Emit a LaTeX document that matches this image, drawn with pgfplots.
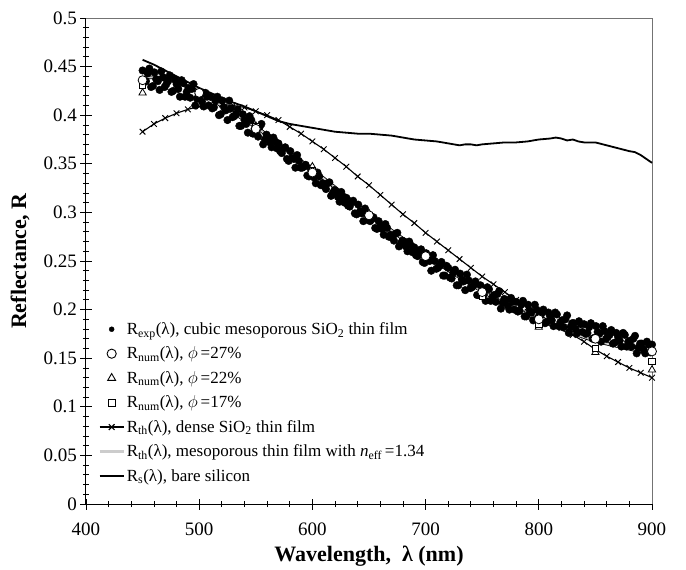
\documentclass[border=0pt]{standalone}
\usepackage{fontspec}
\setmainfont{Liberation Serif}
\usepackage{pgfplots}
\pgfplotsset{compat=1.18}
\pgfplotsset{
 markleg/.style={legend image code/.code={\path[draw=none,fill=none] (0cm,-0.1cm) rectangle (0.85cm,0.1cm); \draw[##1] plot coordinates {(0.425cm,0cm)};}},
 lineleg/.style={legend image code/.code={\draw[##1] (0cm,0cm) -- (0.85cm,0cm);}},
 xleg/.style={legend image code/.code={\draw[##1, mark repeat=2, mark phase=2] plot coordinates {(0cm,0cm) (0.425cm,0cm) (0.85cm,0cm)};}},
}
\begin{document}
\begin{tikzpicture}
\useasboundingbox (-86bp,-66bp) rectangle (600bp,504bp);
\begin{axis}[
  at={(0,0)}, anchor=south west,
  scale only axis, width=566bp, height=486bp,
  xmin=400, xmax=900, ymin=0, ymax=0.5,
  xtick={400,500,...,900},
  ytick={0,0.05,...,0.5},
  minor x tick num=4, minor y tick num=4,
  axis x line*=bottom, axis y line*=left,
  axis line style={-, black, line width=1bp},
  tick style={black, line width=0.8bp},
  tick align=center,
  major tick length=11bp, minor tick length=6bp,
  /pgf/number format/assume math mode=true,
  yticklabel style={/pgf/number format/.cd, fixed, precision=2},
  ticklabel style={font=\fontsize{19bp}{21bp}\selectfont},
  xticklabel style={yshift=-10bp},
  xlabel={\textbf{Wavelength,~ λ (nm)}},
  ylabel={\textbf{Reflectance, R}},
  label style={font=\fontsize{22bp}{24bp}\selectfont},
  xlabel style={at={(axis description cs:0.5,-0.119)}, anchor=base},
  ylabel style={at={(axis description cs:-0.106,0.5)}, anchor=base},
  legend style={draw=none, fill=none, at={(axis cs:410,0.19)}, anchor=north west,
    font=\fontsize{17bp}{19bp}\selectfont, row sep=7bp, inner sep=1bp},
  legend cell align=left,
  clip=false,
]
% ---- legend entries
\addlegendimage{only marks, mark=*, mark size=2.5bp, black, markleg}
\addlegendentry{R\textsubscript{exp}(λ), cubic mesoporous SiO\textsubscript{2} thin film}
\addlegendimage{only marks, mark=o, mark size=4.6bp, black, line width=0.9bp, markleg}
\addlegendentry{R\textsubscript{num}(λ), $\phi$\,=27\%}
\addlegendimage{only marks, mark=triangle, mark size=4.6bp, black, line width=0.9bp, markleg}
\addlegendentry{R\textsubscript{num}(λ), $\phi$\,=22\%}
\addlegendimage{only marks, mark=square, mark size=3.4bp, black, line width=0.9bp, markleg}
\addlegendentry{R\textsubscript{num}(λ), $\phi$\,=17\%}
\addlegendimage{black, line width=1.2bp, mark=x, mark size=4bp, xleg}
\addlegendentry{R\textsubscript{th}(λ), dense SiO\textsubscript{2} thin film}
\addlegendimage{black!20, line width=2.2bp, lineleg}
\addlegendentry{R\textsubscript{th}(λ), mesoporous thin film with \textit{n}\textsubscript{eff}\,=1.34}
\addlegendimage{black, line width=2bp, lineleg}
\addlegendentry{R\textsubscript{s}(λ), bare silicon}

% ---- frame top/right
\draw[black!55, line width=0.8bp] (rel axis cs:0,1) -- (rel axis cs:1,1) -- (rel axis cs:1,0);

% ---- bare silicon
\addplot[forget plot, black, line width=1.8bp, no marks] coordinates {
(450,0.457)(460,0.452)(470,0.446)(480,0.440)(490,0.434)(500,0.428)(510,0.423)(520,0.418)
(530,0.413)(540,0.409)(550,0.404)(560,0.399)(570,0.394)(580,0.391)(590,0.389)(600,0.387)
(610,0.385)(620,0.383)(630,0.382)(640,0.381)(650,0.381)(660,0.380)(670,0.379)(680,0.377)
(690,0.375)(700,0.374)(710,0.373)(720,0.371)(725,0.370)(730,0.369)(735,0.370)(740,0.370)
(745,0.369)(750,0.370)(760,0.371)(770,0.372)(780,0.372)(790,0.373)(800,0.375)(810,0.376)
(815,0.377)(820,0.376)(825,0.374)(830,0.375)(835,0.373)(840,0.372)(845,0.372)(850,0.372)
(860,0.369)(870,0.366)(880,0.363)(885,0.362)(890,0.359)(895,0.355)(900,0.351)
};

% ---- dense SiO2 film
\addplot[forget plot, black, line width=1.1bp, mark=x, mark size=4bp, mark options={line width=0.9bp}] coordinates {
(450,0.383)(460,0.391)(470,0.397)(480,0.402)(490,0.406)(500,0.409)(510,0.411)(520,0.411)
(530,0.410)(540,0.408)(550,0.404)(560,0.400)(570,0.395)(580,0.388)(590,0.381)(600,0.373)
(610,0.365)(620,0.356)(630,0.347)(640,0.337)(650,0.328)(660,0.318)(670,0.308)(680,0.298)
(690,0.289)(700,0.279)(710,0.270)(720,0.261)(730,0.252)(740,0.243)(750,0.234)(760,0.226)
(770,0.218)(780,0.210)(790,0.202)(800,0.195)(810,0.188)(820,0.181)(830,0.174)(840,0.167)
(850,0.159)(860,0.152)(870,0.146)(880,0.140)(890,0.135)(900,0.130)
};

% ---- experimental (two interleaved sweeps)
\addplot[forget plot, only marks, mark=*, mark size=3.8bp, black] coordinates {
(450,0.446)(453,0.435)(456,0.448)(459,0.430)(462,0.437)(465,0.426)(468,0.439)(471,0.432)
(474,0.441)(477,0.425)(480,0.432)(483,0.419)(486,0.433)(489,0.424)(492,0.418)(495,0.432)
(498,0.417)(501,0.421)(504,0.409)(507,0.419)(510,0.419)(513,0.408)(516,0.419)(519,0.401)
(522,0.408)(525,0.395)(528,0.407)(531,0.399)(534,0.406)(537,0.389)(540,0.395)(543,0.382)
(546,0.395)(549,0.386)(552,0.378)(555,0.391)(558,0.375)(561,0.377)(564,0.367)(567,0.373)
(570,0.371)(573,0.361)(576,0.367)(579,0.353)(582,0.356)(585,0.346)(588,0.353)(591,0.346)
(594,0.349)(597,0.337)(600,0.340)(603,0.330)(606,0.337)(609,0.330)(612,0.324)(615,0.331)
(618,0.320)(621,0.321)(624,0.311)(627,0.316)(630,0.315)(633,0.306)(636,0.312)(639,0.298)
(642,0.301)(645,0.291)(648,0.298)(651,0.291)(654,0.295)(657,0.283)(660,0.286)(663,0.277)
(666,0.284)(669,0.277)(672,0.271)(675,0.279)(678,0.268)(681,0.270)(684,0.260)(687,0.266)
(690,0.264)(693,0.255)(696,0.262)(699,0.248)(702,0.252)(705,0.240)(708,0.250)(711,0.243)
(714,0.249)(717,0.235)(720,0.243)(723,0.232)(726,0.241)(729,0.225)(732,0.231)(735,0.220)
(738,0.230)(741,0.223)(744,0.229)(747,0.215)(750,0.220)(753,0.209)(756,0.221)(759,0.213)
(762,0.208)(765,0.219)(768,0.207)(771,0.210)(774,0.200)(777,0.208)(780,0.208)(783,0.199)
(786,0.209)(789,0.193)(792,0.199)(795,0.189)(798,0.200)(801,0.194)(804,0.200)(807,0.187)
(810,0.193)(813,0.183)(816,0.195)(819,0.187)(822,0.182)(825,0.194)(828,0.182)(831,0.186)
(834,0.176)(837,0.185)(840,0.185)(843,0.176)(846,0.186)(849,0.171)(852,0.177)(855,0.167)
(858,0.178)(861,0.172)(864,0.179)(867,0.166)(870,0.172)(873,0.162)(876,0.174)(879,0.167)
(882,0.162)(885,0.173)(888,0.161)(891,0.165)(894,0.155)(897,0.164)(900,0.164)
};
\addplot[forget plot, only marks, mark=*, mark size=3.8bp, black] coordinates {
(451.5,0.434)(454.5,0.443)(457.5,0.429)(460.5,0.444)(463.5,0.435)(466.5,0.445)(469.5,0.429)
(472.5,0.435)(475.5,0.424)(478.5,0.437)(481.5,0.427)(484.5,0.436)(487.5,0.419)(490.5,0.428)
(493.5,0.427)(496.5,0.410)(499.5,0.422)(502.5,0.414)(505.5,0.423)(508.5,0.410)(511.5,0.407)
(514.5,0.415)(517.5,0.400)(520.5,0.415)(523.5,0.405)(526.5,0.415)(529.5,0.398)(532.5,0.401)
(535.5,0.389)(538.5,0.401)(541.5,0.391)(544.5,0.399)(547.5,0.381)(550.5,0.383)(553.5,0.388)
(556.5,0.370)(559.5,0.380)(562.5,0.372)(565.5,0.377)(568.5,0.366)(571.5,0.363)(574.5,0.366)
(577.5,0.355)(580.5,0.363)(583.5,0.355)(586.5,0.359)(589.5,0.346)(592.5,0.347)(595.5,0.338)
(598.5,0.345)(601.5,0.336)(604.5,0.341)(607.5,0.328)(610.5,0.327)(613.5,0.330)(616.5,0.317)
(619.5,0.323)(622.5,0.316)(625.5,0.321)(628.5,0.310)(631.5,0.307)(634.5,0.310)(637.5,0.299)
(640.5,0.308)(643.5,0.299)(646.5,0.304)(649.5,0.292)(652.5,0.293)(655.5,0.284)(658.5,0.291)
(661.5,0.283)(664.5,0.288)(667.5,0.275)(670.5,0.274)(673.5,0.278)(676.5,0.265)(679.5,0.271)
(682.5,0.265)(685.5,0.270)(688.5,0.259)(691.5,0.256)(694.5,0.260)(697.5,0.249)(700.5,0.258)
(703.5,0.250)(706.5,0.256)(709.5,0.242)(712.5,0.245)(715.5,0.235)(718.5,0.245)(721.5,0.233)
(724.5,0.238)(727.5,0.225)(730.5,0.237)(733.5,0.229)(736.5,0.236)(739.5,0.222)(742.5,0.225)
(745.5,0.215)(748.5,0.225)(751.5,0.216)(754.5,0.223)(757.5,0.209)(760.5,0.215)(763.5,0.216)
(766.5,0.201)(769.5,0.211)(772.5,0.204)(775.5,0.212)(778.5,0.200)(781.5,0.198)(784.5,0.205)
(787.5,0.193)(790.5,0.205)(793.5,0.197)(796.5,0.205)(799.5,0.192)(802.5,0.196)(805.5,0.186)
(808.5,0.197)(811.5,0.189)(814.5,0.197)(817.5,0.183)(820.5,0.189)(823.5,0.190)(826.5,0.176)
(829.5,0.186)(832.5,0.180)(835.5,0.188)(838.5,0.177)(841.5,0.175)(844.5,0.182)(847.5,0.170)
(850.5,0.183)(853.5,0.175)(856.5,0.183)(859.5,0.170)(862.5,0.174)(865.5,0.165)(868.5,0.176)
(871.5,0.168)(874.5,0.176)(877.5,0.162)(880.5,0.168)(883.5,0.170)(886.5,0.155)(889.5,0.165)
(892.5,0.159)(895.5,0.167)(898.5,0.156)
};

% ---- mesoporous n_eff = 1.34 (black edge + light grey core)
\addplot[forget plot, black, line width=3.6bp, no marks, smooth] coordinates {
(450,0.438)(460,0.439)(475,0.436)(500,0.424)(525,0.406)(550,0.388)(575,0.366)(600,0.344)
(625,0.321)(650,0.298)(675,0.277)(700,0.256)(725,0.237)(750,0.219)(775,0.203)(800,0.190)
(825,0.178)(850,0.168)(875,0.161)(900,0.155)
};
\addplot[forget plot, black!20, line width=2bp, no marks, smooth] coordinates {
(450,0.438)(460,0.439)(475,0.436)(500,0.424)(525,0.406)(550,0.388)(575,0.366)(600,0.344)
(625,0.321)(650,0.298)(675,0.277)(700,0.256)(725,0.237)(750,0.219)(775,0.203)(800,0.190)
(825,0.178)(850,0.168)(875,0.161)(900,0.155)
};

% ---- numerical
\addplot[forget plot, only marks, mark=triangle*, mark size=4.2bp, mark options={fill=white, draw=black, line width=0.8bp}] coordinates {
(450,0.423)(500,0.421)(550,0.389)(600,0.347)(650,0.299)(700,0.256)(750,0.216)(800,0.182)(850,0.156)(900,0.138)
};
\addplot[forget plot, only marks, mark=square*, mark size=3.2bp, mark options={fill=white, draw=black, line width=0.8bp}] coordinates {
(450,0.431)(500,0.423)(550,0.388)(600,0.343)(650,0.297)(700,0.254)(750,0.214)(800,0.185)(850,0.160)(900,0.147)
};
\addplot[forget plot, only marks, mark=*, mark size=4.5bp, mark options={fill=white, draw=black, line width=0.8bp}] coordinates {
(450,0.436)(500,0.423)(550,0.386)(600,0.341)(650,0.297)(700,0.255)(750,0.218)(800,0.190)(850,0.170)(900,0.157)
};
\end{axis}
\end{tikzpicture}
\end{document}
